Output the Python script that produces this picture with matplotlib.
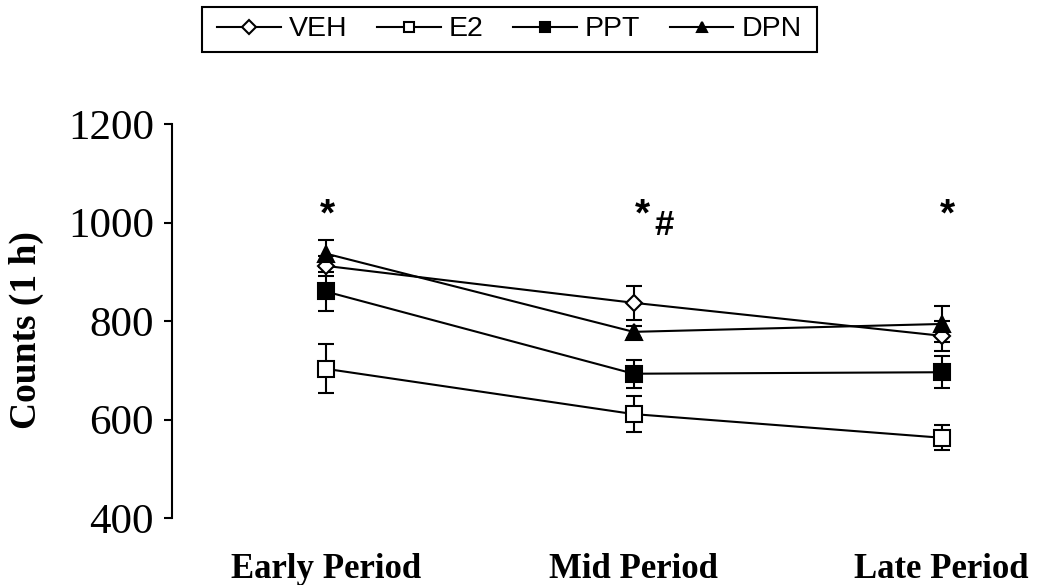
import numpy as np
import matplotlib
matplotlib.use('Agg')
from matplotlib import pyplot as plt
from matplotlib.patches import Rectangle

periods = ['Early Period', 'Mid Period', 'Late Period']
groups = ['VEH', 'E2', 'PPT', 'DPN']
veh = [912, 837, 770]
veh_err = [20, 35, 31]
e2 = [703, 611, 563]
e2_err = [50, 37, 25]
ppt = [860, 693, 696]
ppt_err = [40, 28, 33]
dpn = [937, 778, 794]
dpn_err = [28, 12, 36]
star_x = [0.007, 1.03, 2.02]
hash_x = 1.1

x = np.arange(len(periods))

fig = plt.figure(figsize=(10.57, 5.85), dpi=100)
ax = fig.add_axes([0.1627, 0.1145, 0.83, 0.6735])

styles = {
    'VEH': dict(marker='D', ms=8, mfc='white', mew=1.5),
    'E2': dict(marker='s', ms=11, mfc='white', mew=1.5),
    'PPT': dict(marker='s', ms=11, mfc='black', mew=1.5),
    'DPN': dict(marker='^', ms=11, mfc='black', mew=1.5),
}
data = {'VEH': (veh, veh_err), 'E2': (e2, e2_err), 'PPT': (ppt, ppt_err), 'DPN': (dpn, dpn_err)}

handles = []
for g in groups:
    vals, errs = data[g]
    eb = ax.errorbar(x, vals, yerr=errs, color='black', lw=1.5, elinewidth=1.5,
                     capsize=6, capthick=1.5, mec='black', **styles[g])
    handles.append(eb[0])

ax.set_ylim(400, 1200)
ax.set_yticks([400, 600, 800, 1000, 1200])
ax.set_xlim(-0.499, 2.35)
ax.set_xticks(x)
ax.set_xticklabels(periods, fontfamily='Liberation Serif', fontweight='bold', fontsize=25)
ax.tick_params(axis='x', length=0, pad=25)
ax.tick_params(axis='y', direction='out', length=6, width=1.5, labelsize=31, pad=7)
for lab in ax.get_yticklabels():
    lab.set_fontfamily('Liberation Serif')
for s in ['top', 'right', 'bottom']:
    ax.spines[s].set_visible(False)
ax.spines['left'].set_linewidth(1.5)

ax.set_ylabel('Counts (1 h)', fontfamily='Liberation Serif', fontweight='bold', fontsize=27)
ax.yaxis.set_label_coords(-0.146, 0.477)

# significance marks
for sx in star_x:
    ax.text(sx, 993, '*', ha='center', va='baseline', fontsize=28,
            fontweight='bold', fontfamily='Liberation Sans')
ax.text(hash_x, 975, '#', ha='center', va='baseline', fontsize=25,
        fontweight='bold', fontfamily='Liberation Sans')

leg = fig.legend(handles, groups, loc='center', bbox_to_anchor=(0.482, 0.9496), ncol=4,
                 frameon=False, handlelength=2.23, columnspacing=1.04, handletextpad=0.29,
                 prop={'family': 'Liberation Sans', 'size': 20.5}, borderpad=0.3)
for h in leg.legend_handles:
    h.set_markersize(7)
    h.set_linewidth(1.5)

# legend box
fig.patches.append(Rectangle((202 / 1057, 1 - 52 / 585), 615 / 1057, 45 / 585,
                             transform=fig.transFigure, fill=False, edgecolor='black', lw=1.5))

fig.savefig('out.png', dpi=100)
